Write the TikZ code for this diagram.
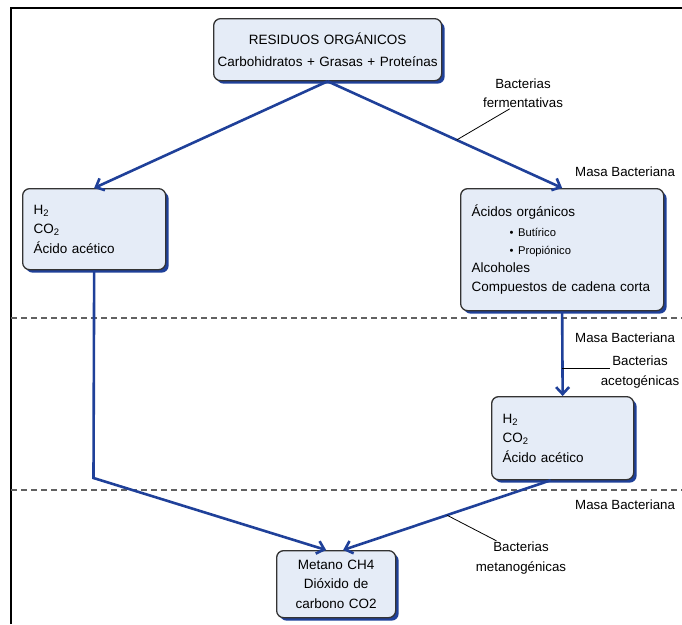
\documentclass[tikz,border=0pt]{standalone}
\usepackage{fontspec}
\setmainfont{Liberation Sans}
\usetikzlibrary{arrows.meta,shadows}
\definecolor{azul}{rgb}{0.12,0.25,0.6}
\definecolor{cajafondo}{rgb}{0.9,0.925,0.97}
\definecolor{borde}{rgb}{0.2,0.2,0.2}
\definecolor{rayas}{rgb}{0.38,0.38,0.38}

\begin{document}
\begin{tikzpicture}[x=1pt, y=-1pt,
  caja/.style={draw=borde, line width=1.3pt, fill=cajafondo, rounded corners=7pt, inner xsep=11pt, inner ysep=2pt, font=\fontsize{13.5}{19.5}\selectfont, drop shadow={shadow xshift=3pt, shadow yshift=-3pt, fill=azul, opacity=1}},
  flecha/.style={azul, line width=2.6pt, -{Straight Barb[length=7pt,width=13pt]}},
  guia/.style={black, line width=0.8pt},
  etiqueta/.style={inner sep=1pt, font=\fontsize{13.3}{19.5}\selectfont, align=center}]
  \useasboundingbox (0,0) rectangle (682,624);

  % frame (top and left only) and the two dashed stage lines
  \draw[black, line width=2pt] (11,624) -- (11,8) -- (682,8);
  \draw[rayas, line width=1.8pt, dash pattern=on 6pt off 4pt] (11,318) -- (682,318);
  \draw[rayas, line width=1.8pt, dash pattern=on 6pt off 4pt] (11,490) -- (682,490);

  % Boxes, placed by their top left corner (pixel coords, y down)
  \node[caja, anchor=north west, minimum width=228, minimum height=62, inner xsep=4pt, text width=220, align=center] (residuos) at (213,18)
    {RESIDUOS ORGÁNICOS\\[2.5pt]Carbohidratos + Grasas + Proteínas};
  \node[caja, anchor=north west, minimum width=143, minimum height=81, text width=121, align=left] (izq) at (22,188)
    {H\textsubscript{2}\\CO\textsubscript{2}\\Ácido acético};
  \node[caja, anchor=north west, minimum width=203, minimum height=122, text width=181, align=left] (acidos) at (460,188)
    {Ácidos orgánicos\\
     \hspace*{38pt}{\fontsize{11.2}{19}\selectfont\textbullet\ Butírico}\\[-1pt]
     \hspace*{38pt}{\fontsize{11.2}{19}\selectfont\textbullet\ Propiónico}\\[-2pt]
     Alcoholes\\Compuestos de cadena corta};
  \node[caja, anchor=north west, minimum width=142, minimum height=83, text width=120, align=left] (acet) at (491,396)
    {H\textsubscript{2}\\CO\textsubscript{2}\\Ácido acético};
  \node[caja, anchor=north west, minimum width=119, minimum height=67, text width=109, inner xsep=5pt, align=center] (metano) at (276,550)
    {Metano CH4\\Dióxido de\\carbono CO2};

  % labels
  \node[etiqueta] (fermen) at (523,93) {Bacterias\\fermentativas};
  \node[etiqueta, anchor=west] (masa1) at (574,172) {Masa Bacteriana};
  \node[etiqueta, anchor=west] (masa2) at (574,338) {Masa Bacteriana};
  \node[etiqueta] (acetog) at (640,372) {Bacterias\\acetogénicas};
  \node[etiqueta, anchor=west] (masa3) at (574,505) {Masa Bacteriana};
  \node[etiqueta] (metanog) at (521,558) {Bacterias\\metanogénicas};

  \coordinate (codo) at (93.5,478);

  % blue flow arrows
  \draw[flecha] (residuos.south) -- (izq.north);
  \draw[flecha] (residuos.south) -- coordinate[pos=0.55] (pf) (acidos.north);
  \draw[flecha] (acidos.south) -- coordinate[pos=0.67] (pa) (acet.north);
  \draw[flecha] (izq.south) -- (codo) -- ([xshift=-10pt]metano.north);
  \draw[flecha] ([xshift=-12pt]acet.south) -- coordinate[pos=0.5] (pm) ([xshift=7pt]metano.north);

  % leader lines to the bacteria labels
  \draw[guia] (pf) -- (fermen.230);
  \draw[guia] (pa) -- ++(48,0);
  \draw[guia] (pm) -- (metanog.145);

\end{tikzpicture}
\end{document}
